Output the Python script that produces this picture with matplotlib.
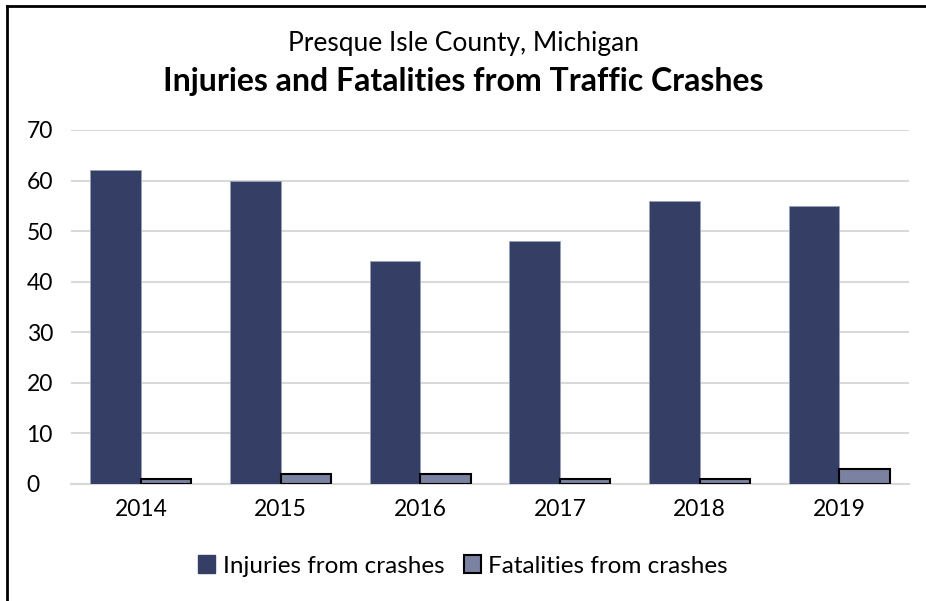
import numpy as np
import matplotlib.pyplot as plt
from matplotlib.lines import Line2D
from matplotlib.patches import Patch

plt.rcParams['font.family'] = ['Lato', 'DejaVu Sans']

years = ['2014', '2015', '2016', '2017', '2018', '2019']
injuries = [62, 60, 44, 48, 56, 55]
fatalities = [1, 2, 2, 1, 1, 3]

inj_color = '#353F66'
fat_color = '#7B81A1'

fig = plt.figure(figsize=(9.26, 6.01), dpi=100)
ax = fig.add_axes([0.0767, 0.1947, 0.905, 0.589])

x = np.arange(len(years))
w = 0.362
ax.bar(x - w / 2, injuries, width=w, color=inj_color, edgecolor='#9AA0B8', linewidth=0.6,
       label='Injuries from crashes', zorder=3)
ax.bar(x + w / 2, fatalities, width=w, color=fat_color, edgecolor='black', linewidth=1.5,
       label='Fatalities from crashes', zorder=3)

ax.set_xlim(-0.5, len(years) - 0.5)
ax.set_ylim(0, 70)
ax.set_yticks(range(0, 71, 10))
ax.set_xticks(x)
ax.set_xticklabels(years)
ax.yaxis.grid(True, color='#D9D9D9', linewidth=1.5, zorder=0)
ax.tick_params(axis='both', length=0, labelsize=16.5, colors='black')
ax.tick_params(axis='x', pad=11)
ax.tick_params(axis='y', pad=32)
for lab in ax.get_yticklabels():
    lab.set_horizontalalignment('left')
for s in ['top', 'right', 'left']:
    ax.spines[s].set_visible(False)
ax.spines['bottom'].set_color('#D9D9D9')
ax.spines['bottom'].set_linewidth(1.5)

fig.text(0.5, 1 - 43 / 601, 'Presque Isle County, Michigan', ha='center', va='center', fontsize=19)
fig.text(0.5, 1 - 82 / 601, 'Injuries and Fatalities from Traffic Crashes', ha='center', va='center',
         fontsize=23, fontweight='bold')

handles = [Patch(facecolor=inj_color, edgecolor=inj_color),
           Patch(facecolor=fat_color, edgecolor='black', linewidth=1.5)]
fig.legend(handles, ['Injuries from crashes', 'Fatalities from crashes'], loc='center',
           bbox_to_anchor=(0.5, 1 - 566 / 601), ncol=2, frameon=False, fontsize=17.5,
           handlelength=0.7, handleheight=0.7, handletextpad=0.3, columnspacing=0.8)

# outer frame (only top and left edges visible in the crop)
fig.add_artist(Line2D([7 / 926, 7 / 926], [0, 1 - 6 / 601], transform=fig.transFigure,
                      color='black', linewidth=2))
fig.add_artist(Line2D([7 / 926, 1], [1 - 6 / 601, 1 - 6 / 601], transform=fig.transFigure,
                      color='black', linewidth=2))

fig.savefig('out.png', dpi=100)
